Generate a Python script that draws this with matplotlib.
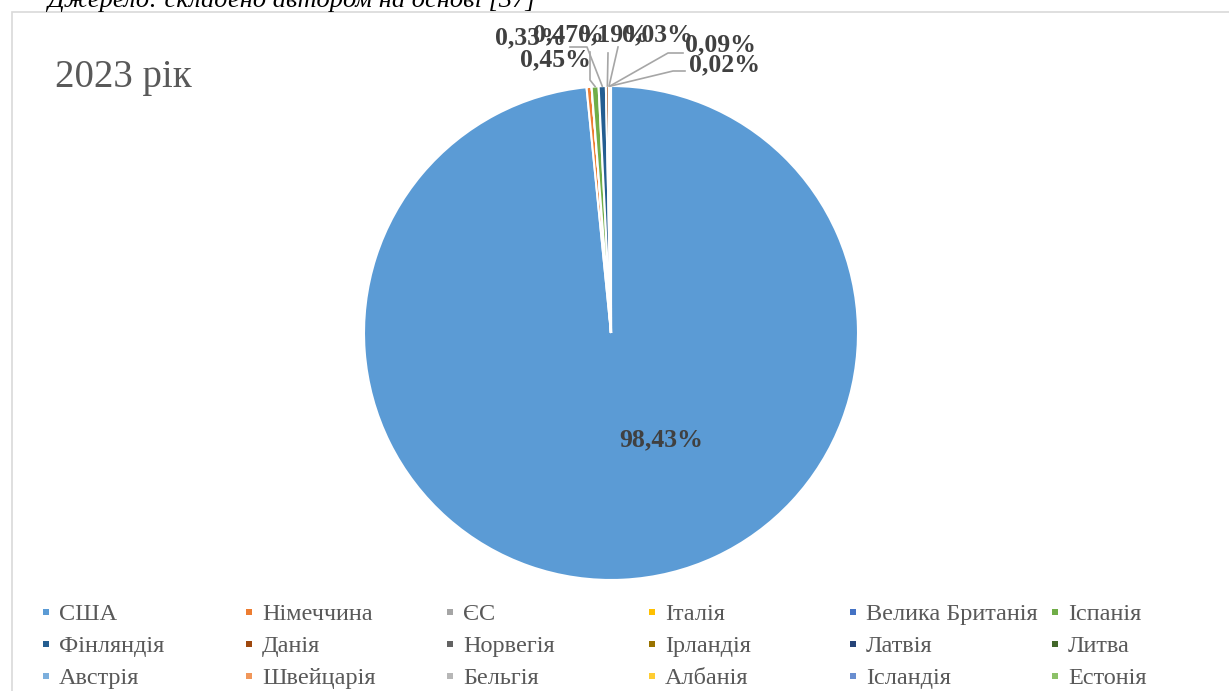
import numpy as np
import matplotlib
matplotlib.use("Agg")
from matplotlib import pyplot as plt
from matplotlib.patches import Rectangle
from matplotlib.lines import Line2D

plt.rcParams['font.family'] = ['Liberation Serif', 'DejaVu Serif']

# дані: частка країн, 2023 рік
countries = ["США", "Німеччина", "ЄС", "Італія", "Велика Британія", "Іспанія",
             "Фінляндія", "Данія", "Норвегія", "Ірландія", "Латвія", "Литва",
             "Австрія", "Швейцарія", "Бельгія", "Албанія", "Ісландія", "Естонія"]
shares = [98.43, 0.33, 0, 0, 0, 0.45,
          0.47, 0.19, 0.03, 0, 0, 0,
          0, 0.09, 0, 0, 0, 0.02]
colors = ["#5B9BD5", "#ED7D31", "#A5A5A5", "#FFC000", "#4472C4", "#70AD47",
          "#255E91", "#9E480E", "#636363", "#997300", "#264478", "#43682B",
          "#7CAFDD", "#F1975A", "#B7B7B7", "#FFCD33", "#698ED0", "#8CC168"]

W, H = 1229, 691
cx, cy, R = 611, 333, 247   # центр і радіус круга в пікселях


def px(x, y):
    # пікселі -> координати осей (одиниця = радіус)
    return (x - cx) / R, (cy - y) / R


fig = plt.figure(figsize=(W / 100, H / 100), dpi=100)
ax = fig.add_axes([0, 0, 1, 1])

wedges, _ = ax.pie(shares, colors=colors, startangle=90, counterclock=False,
                   wedgeprops=dict(edgecolor='white', linewidth=1.5))
ax.set_xlim(-cx / R, (W - cx) / R)
ax.set_ylim(-(H - cy) / R, cy / R)
ax.set_aspect('auto')
ax.axis('off')

lab_color = '#404040'
line_color = '#A6A6A6'

# підпис великого сектора
ax.text(*px(661, 440), "98,43%", ha='center', va='center',
        fontsize=18.5, fontweight='bold', color=lab_color)

# підписи малих секторів: (центр тексту, точки виноски)
small = {
    1: ((530, 38), None),
    5: ((555, 60), [(590, 52), (590, 80)]),
    6: ((568, 35), [(570, 47), (587, 47)]),
    7: ((613, 35), [(608, 53)]),
    8: ((657, 35), [(618, 47)]),
    13: ((720, 45), [(683, 53), (668, 53)]),
    17: ((725, 65), [(685, 71), (673, 71)]),
}
for i, (pos, pts) in small.items():
    w = wedges[i]
    if pts is not None:
        ang = np.deg2rad((w.theta1 + w.theta2) / 2)
        xs = [px(*p)[0] for p in pts] + [np.cos(ang)]
        ys = [px(*p)[1] for p in pts] + [np.sin(ang)]
        ax.plot(xs, ys, color=line_color, lw=1.2, zorder=1)
    ax.text(*px(*pos), "{:.2f}%".format(shares[i]).replace('.', ','),
            ha='center', va='center', fontsize=18.5, fontweight='bold',
            color=lab_color, zorder=3)

# рамка діаграми
fig.patches.append(Rectangle((11.5 / W, -0.1), 1.2, 1.1 - 11.5 / H,
                             transform=fig.transFigure, fill=False,
                             edgecolor='#D9D9D9', lw=1.2))

# джерело (обрізане зверху)
fig.text(47 / W, 1 - 7 / H, "Джерело: складено автором на основі [37]",
         fontsize=19, fontstyle='italic', color='black', va='baseline')

fig.text(55 / W, 1 - 87 / H, "2023 рік", fontsize=28, color='#595959',
         va='baseline')

# легенда: 6 колонок по 3 рядки, заповнення по рядках
col_x = [43, 246, 447, 649, 850, 1052]
for j in range(6):
    idx = [r * 6 + j for r in range(3)]
    handles = [Line2D([], [], marker='s', linestyle='', markersize=4.2,
                      markerfacecolor=colors[k], markeredgewidth=0)
               for k in idx]
    leg = fig.legend(handles, [countries[k] for k in idx], loc='upper left',
                     bbox_to_anchor=(col_x[j] / W, 1 - 603 / H), frameon=False,
                     fontsize=17.5, borderpad=0, borderaxespad=0,
                     handlelength=0.25, handletextpad=0.4,
                     labelspacing=0.42, labelcolor='#595959')

fig.savefig("out.png", dpi=100)
